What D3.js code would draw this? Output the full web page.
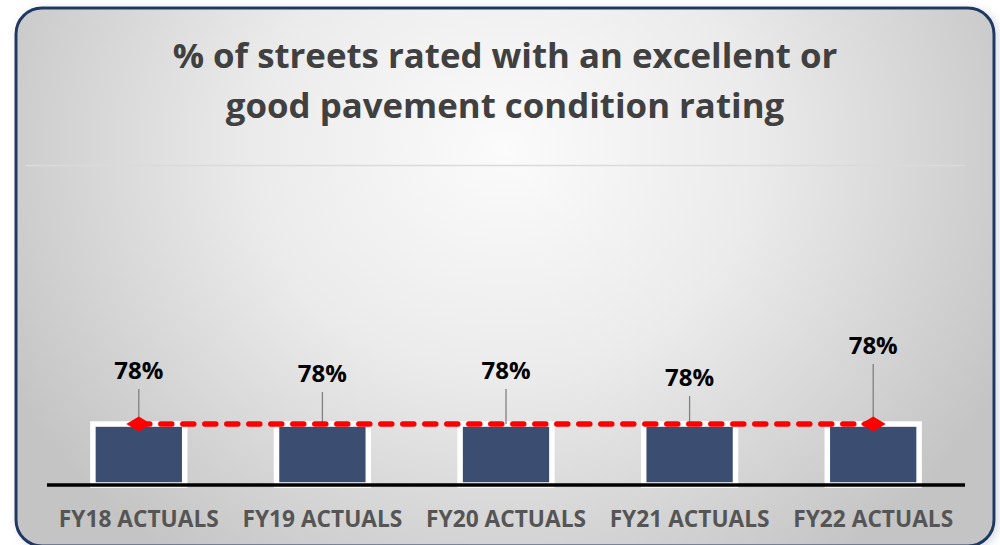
<!DOCTYPE html>
<html>
<head>
<meta charset="utf-8">
<script src="https://cdn.jsdelivr.net/npm/d3@7"></script>
<style>
  html, body { margin: 0; padding: 0; background: #ffffff; }
  svg { display: block; }
</style>
</head>
<body>
<svg id="chart" width="1000" height="545"></svg>
<script>
// ---- data ----
const titleLines = ["% of streets rated with an excellent or", "good pavement condition rating"];
const categories = ["FY18 ACTUALS", "FY19 ACTUALS", "FY20 ACTUALS", "FY21 ACTUALS", "FY22 ACTUALS"];
const actuals = [0.78, 0.78, 0.78, 0.78, 0.78];
const target = [0.78, 0.78, 0.78, 0.78, 0.78];
const valueLabels = ["78%", "78%", "78%", "78%", "78%"];

// ---- layout (not data) ----
const labelOffsets = [-54, -51, -54, -47, -79];
const W = 1000, H = 545;
const plot = { left: 47, right: 965, top: 165, bottom: 485 };

const svg = d3.select("#chart");
const defs = svg.append("defs");

const grad = defs.append("radialGradient")
  .attr("id", "bg").attr("gradientUnits", "userSpaceOnUse")
  .attr("cx", 505).attr("cy", 150).attr("r", 560)
  .attr("gradientTransform", "translate(505,150) scale(1,0.9) translate(-505,-150)");
grad.append("stop").attr("offset", "0").attr("stop-color", "#fbfbfb");
grad.append("stop").attr("offset", "0.45").attr("stop-color", "#ebebeb");
grad.append("stop").attr("offset", "1").attr("stop-color", "#c4c4c4");

const shadow = defs.append("filter").attr("id", "sh").attr("x", "-5%").attr("y", "-5%").attr("width", "115%").attr("height", "115%");
shadow.append("feDropShadow").attr("dx", 3).attr("dy", 2).attr("stdDeviation", 4)
  .attr("flood-color", "#8a96aa").attr("flood-opacity", 0.35);

// card
svg.append("rect")
  .attr("x", 16).attr("y", 8).attr("width", 978).attr("height", 538)
  .attr("rx", 26).attr("ry", 26)
  .attr("fill", "url(#bg)")
  .attr("stroke", "#1f3864").attr("stroke-width", 3)
  .attr("filter", "url(#sh)");

// title
const titleG = svg.append("g");
const titleSel = titleG.selectAll("text").data(titleLines).join("text")
  .attr("x", 505).attr("y", (d, i) => 68 + i * 50)
  .attr("text-anchor", "middle")
  .attr("font-family", "Open Sans, sans-serif")
  .attr("font-weight", "bold")
  .attr("font-size", 35)
  .attr("fill", "#404040")
  .text(d => d);
const w0 = titleSel.nodes()[0].getComputedTextLength();
const tfs = 35 * 665 / w0;
titleSel.attr("font-size", tfs);

// scales
const x = d3.scaleBand().domain(categories)
  .range([plot.left, plot.right]).paddingInner(0.5).paddingOuter(0.25);
const y = d3.scaleLinear().domain([0.74, 0.95]).range([plot.bottom, plot.top]);

// gridline at top of value axis
const yAxis = d3.axisLeft(y).tickValues([0.95]).tickSize(-(plot.right - plot.left)).tickFormat("");
const gy = svg.append("g").attr("transform", `translate(${plot.left - 22},0)`).call(yAxis);
gy.select(".domain").remove();
gy.selectAll(".tick line").attr("stroke", "#dadada").attr("stroke-width", 1.5)
  .attr("x2", plot.right - plot.left + 22);

// bars
svg.append("g").selectAll("rect").data(actuals).join("rect")
  .attr("x", (d, i) => x(categories[i]))
  .attr("width", x.bandwidth())
  .attr("y", d => y(d))
  .attr("height", d => y(y.domain()[0]) - y(d))
  .attr("fill", "#3b4e72")
  .attr("stroke", "#ffffff").attr("stroke-width", 5.5);

// leader lines
const cx = (i) => x(categories[i]) + x.bandwidth() / 2;
svg.append("g").selectAll("line").data(actuals).join("line")
  .attr("x1", (d, i) => cx(i)).attr("x2", (d, i) => cx(i))
  .attr("y1", (d, i) => y(d) + labelOffsets[i] + 19)
  .attr("y2", d => y(d))
  .attr("stroke", "#808080").attr("stroke-width", 1.3);

// target dashed line
const line = d3.line().x((d, i) => cx(i)).y(d => y(d));
svg.append("path").datum(target)
  .attr("d", line)
  .attr("fill", "none")
  .attr("stroke", "#ff0000").attr("stroke-width", 5.5)
  .attr("stroke-dasharray", "11,11").attr("stroke-linecap", "round");

// diamond markers at ends
const ends = [0, target.length - 1];
svg.append("g").selectAll("path").data(ends).join("path")
  .attr("d", i => {
    const px = cx(i), py = y(target[i]);
    return `M${px - 12.5},${py} L${px},${py - 7.5} L${px + 12.5},${py} L${px},${py + 7.5} Z`;
  })
  .attr("fill", "#ff0000");

// value labels
svg.append("g").selectAll("text").data(actuals).join("text")
  .attr("x", (d, i) => cx(i))
  .attr("y", (d, i) => y(d) + labelOffsets[i] + 8.5)
  .attr("text-anchor", "middle")
  .attr("font-family", "Open Sans, sans-serif")
  .attr("font-weight", "bold")
  .attr("font-size", 24)
  .attr("fill", "#000000")
  .text((d, i) => valueLabels[i]);

// x axis
const xAxis = d3.axisBottom(x).tickSize(0).tickPadding(0);
const gx = svg.append("g").attr("transform", `translate(0,${plot.bottom})`).call(xAxis);
gx.select(".domain").attr("stroke", "#000").attr("stroke-width", 3.5)
  .attr("d", `M${plot.left},0H${plot.right}`);
gx.selectAll(".tick text")
  .attr("y", 42).attr("dy", 0)
  .attr("font-family", "Open Sans, sans-serif")
  .attr("font-weight", "bold")
  .attr("font-size", 20)
  .attr("fill", "#555555");
const cw = gx.select(".tick text").node().getComputedTextLength();
gx.selectAll(".tick text").attr("font-size", 20 * 160 / cw);
</script>
</body>
</html>
